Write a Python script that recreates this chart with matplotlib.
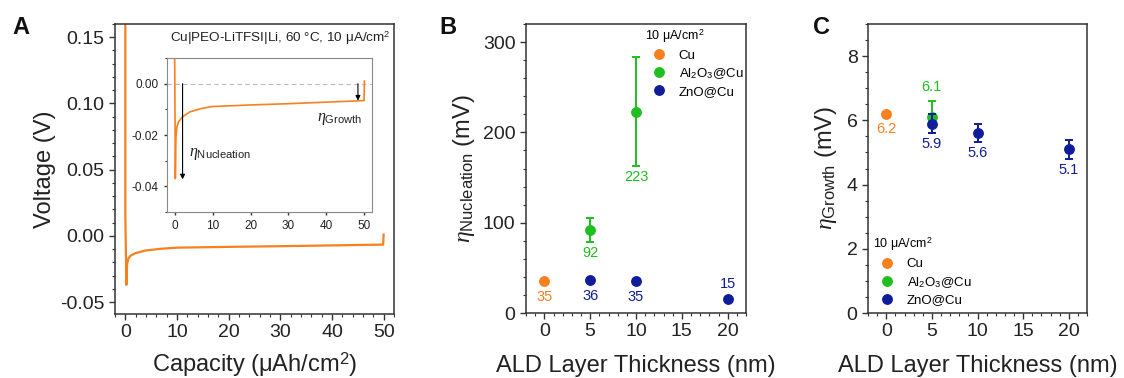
import matplotlib
matplotlib.use("Agg")
import matplotlib.pyplot as plt
from matplotlib.ticker import MultipleLocator

plt.rcParams['font.family'] = ['Liberation Sans', 'DejaVu Sans']
plt.rcParams['mathtext.fontset'] = 'custom'
plt.rcParams['mathtext.rm'] = 'Liberation Sans'
plt.rcParams['mathtext.it'] = 'Liberation Serif:italic'
plt.rcParams['axes.linewidth'] = 1.1
plt.rcParams['axes.edgecolor'] = '#333333'

# ---------------- data ----------------
# panel A: voltage profile
cap_a = [0.0, 0.0, 0.2, 0.35, 0.6, 1.0, 2.0, 4.0, 7.0, 10.0, 15.0, 20.0, 30.0, 40.0, 49.9, 50.0]
volt_a = [0.17, 0.016, -0.037, -0.021, -0.017, -0.015, -0.013, -0.011, -0.0097, -0.0089,
          -0.0086, -0.0083, -0.0078, -0.0072, -0.0066, 0.001]

# panel B: nucleation overpotential (mV)
cu_x = [0]
cu_nuc = [35]
al_x = [5, 10]
al_nuc = [92, 223]
al_nuc_err = [13, 60]
zn_x = [5, 10, 20]
zn_nuc = [36, 35, 15]

# panel C: growth overpotential (mV)
cu_gro = [6.2]
al_gro_x = [5]
al_gro = [6.1]
al_gro_err = [0.5]
zn_gro = [5.9, 5.6, 5.1]
zn_gro_err = [0.3, 0.28, 0.3]

ORANGE = '#F8801E'
GREEN = '#1FBF1F'
NAVY = '#101C9A'
TXT = '#222222'

W, H = 1124, 378
fig = plt.figure(figsize=(W / 100, H / 100), dpi=100)


def px_axes(left, top, right, bottom):
    return fig.add_axes([left / W, 1 - bottom / H, (right - left) / W, (bottom - top) / H])


def style(ax, size=14):
    ax.tick_params(which='both', direction='out', top=False, right=False,
                   labelsize=size, colors='#333333', labelcolor=TXT)
    ax.tick_params(which='major', length=4, width=1.0)
    ax.tick_params(which='minor', length=2.2, width=0.8)


# ---------------- A ----------------
axA = px_axes(115, 24, 394, 314)
axA.plot(cap_a, volt_a, color=ORANGE, lw=1.6)
axA.set_xlim(-2, 52)
axA.set_ylim(-0.059, 0.16)
axA.xaxis.set_major_locator(MultipleLocator(10))
axA.xaxis.set_minor_locator(MultipleLocator(2))
axA.yaxis.set_minor_locator(MultipleLocator(0.01))
axA.set_yticks([-0.05, 0.0, 0.05, 0.10, 0.15])
axA.set_yticklabels(['-0.05', '0.00', '0.05', '0.10', '0.15'])
style(axA)
axA.set_xlabel('Capacity (\u03bcAh/cm$^{2}$)', fontsize=17, color=TXT, va='baseline')
axA.xaxis.set_label_coords(0.5, (314 - 372) / 290)
axA.set_ylabel('Voltage (V)', fontsize=17, color=TXT, va='center')
axA.yaxis.set_label_coords((45 - 115) / 279, 0.5)
axA.text(0.986, 0.952, 'Cu|PEO-LiTFSI|Li, 60 \u00b0C, 10 \u03bcA/cm$^{2}$', transform=axA.transAxes,
         ha='right', va='center', fontsize=9.7, color=TXT)

# inset
axI = px_axes(167, 58, 372, 212)
axI.plot(cap_a, volt_a, color=ORANGE, lw=1.2)
axI.axhline(0, color='#BBBBBB', lw=0.8, ls=(0, (4, 3)), zorder=0)
axI.set_xlim(-2, 52)
axI.set_ylim(-0.05, 0.01)
axI.xaxis.set_major_locator(MultipleLocator(10))
axI.yaxis.set_minor_locator(MultipleLocator(0.01))
axI.set_yticks([-0.04, -0.02, 0.0])
axI.set_yticklabels(['-0.04', '-0.02', '0.00'])
style(axI, size=8.5)
for s in axI.spines.values():
    s.set_edgecolor('#888888')
    s.set_linewidth(0.8)
axI.tick_params(which='major', length=2.5)
axI.tick_params(which='minor', length=1.5)
arrow = dict(arrowstyle='-|>', color='k', lw=0.8, mutation_scale=7, shrinkA=0, shrinkB=0)
axI.annotate('', xy=(2.1, -0.0373), xytext=(2.1, 0.0), arrowprops=arrow)
axI.annotate('', xy=(48.3, -0.0066), xytext=(48.3, 0.0), arrowprops=arrow)
axI.text(3.8, -0.0275, r'$\eta_{\mathrm{Nucleation}}$', fontsize=11.5, color=TXT, ha='left', va='center')
axI.text(37.5, -0.0137, r'$\eta_{\mathrm{Growth}}$', fontsize=11.5, color=TXT, ha='left', va='center')

# ---------------- B ----------------
axB = px_axes(526, 24, 746, 313)
ms = 6.8
axB.plot(cu_x, cu_nuc, 'o', color=ORANGE, ms=ms, label='Cu', zorder=3)
axB.errorbar(al_x, al_nuc, yerr=al_nuc_err, fmt='none', ecolor=GREEN, elinewidth=1.4, capsize=3,
             capthick=1.4, zorder=2)
axB.plot(al_x, al_nuc, 'o', color=GREEN, ms=ms, label='Al$_2$O$_3$@Cu', zorder=3)
axB.plot(zn_x, zn_nuc, 'o', color=NAVY, ms=ms, label='ZnO@Cu', zorder=3)
axB.set_xlim(-2, 22)
axB.set_ylim(0, 320)
axB.xaxis.set_major_locator(MultipleLocator(5))
axB.xaxis.set_minor_locator(MultipleLocator(1))
axB.yaxis.set_major_locator(MultipleLocator(100))
axB.yaxis.set_minor_locator(MultipleLocator(20))
style(axB)
axB.set_xlabel('ALD Layer Thickness (nm)', fontsize=17, color=TXT, va='baseline')
axB.xaxis.set_label_coords(0.5, (313 - 372) / 289)
axB.set_ylabel(r'$\eta_{\mathrm{Nucleation}}$ (mV)', fontsize=17, color=TXT, va='center')
axB.yaxis.set_label_coords((464 - 526) / 220, 0.5)

lab = dict(fontsize=10.5, ha='center', va='center')
axB.annotate(str(cu_nuc[0]), (cu_x[0], cu_nuc[0]), xytext=(0, -11), textcoords='offset points',
             color=ORANGE, **lab)
for x, y, e in zip(al_x, al_nuc, al_nuc_err):
    axB.annotate(str(y), (x, y - e), xytext=(0, -8), textcoords='offset points', color=GREEN, **lab)
for x, y in zip(zn_x, zn_nuc):
    dy = 11 if y < 20 else -11
    axB.annotate(str(y), (x, y), xytext=(0, dy), textcoords='offset points', color=NAVY, **lab)

leg_kw = dict(frameon=False, fontsize=9.5, title_fontsize=9, handlelength=2.1,
              handletextpad=0.45, labelspacing=0.35, alignment='left')
axB.legend(title='10 \u03bcA/cm$^{2}$', loc='upper left', bbox_to_anchor=(0.499, 1.021),
           borderpad=0.2, **leg_kw)

# ---------------- C ----------------
axC = px_axes(868, 24, 1087, 313)
axC.plot(cu_x, cu_gro, 'o', color=ORANGE, ms=ms, label='Cu', zorder=3)
axC.errorbar(al_gro_x, al_gro, yerr=al_gro_err, fmt='none', ecolor=GREEN, elinewidth=1.4, capsize=3,
             capthick=1.4, zorder=2)
axC.plot(al_gro_x, al_gro, 'o', color=GREEN, ms=ms, label='Al$_2$O$_3$@Cu', zorder=3)
axC.errorbar(zn_x, zn_gro, yerr=zn_gro_err, fmt='none', ecolor=NAVY, elinewidth=1.4, capsize=3,
             capthick=1.4, zorder=4)
axC.plot(zn_x, zn_gro, 'o', color=NAVY, ms=ms, label='ZnO@Cu', zorder=5)
axC.set_xlim(-2, 22)
axC.set_ylim(0, 9)
axC.xaxis.set_major_locator(MultipleLocator(5))
axC.xaxis.set_minor_locator(MultipleLocator(1))
axC.yaxis.set_major_locator(MultipleLocator(2))
axC.yaxis.set_minor_locator(MultipleLocator(0.5))
style(axC)
axC.set_xlabel('ALD Layer Thickness (nm)', fontsize=17, color=TXT, va='baseline')
axC.xaxis.set_label_coords(0.5, (313 - 372) / 289)
axC.set_ylabel(r'$\eta_{\mathrm{Growth}}$ (mV)', fontsize=17, color=TXT, va='center')
axC.yaxis.set_label_coords((826 - 868) / 219, 0.5)

axC.annotate(f'{cu_gro[0]:.1f}', (cu_x[0], cu_gro[0]), xytext=(0, -11), textcoords='offset points',
             color=ORANGE, **lab)
for x, y, e in zip(al_gro_x, al_gro, al_gro_err):
    axC.annotate(f'{y:.1f}', (x, y + e), xytext=(0, 10), textcoords='offset points', color=GREEN, **lab)
for x, y, e in zip(zn_x, zn_gro, zn_gro_err):
    axC.annotate(f'{y:.1f}', (x, y - e), xytext=(0, -8), textcoords='offset points', color=NAVY, **lab)

axC.legend(title='10 \u03bcA/cm$^{2}$', loc='lower left', bbox_to_anchor=(-0.026, -0.014),
           borderpad=0.3, **leg_kw)

# panel letters
for letter, x in [('A', 12), ('B', 439), ('C', 813)]:
    fig.text(x / W, 1 - 16 / H, letter, fontsize=17, fontweight='bold', ha='left', va='top', color='#111111')

fig.savefig('out.png', dpi=100)
